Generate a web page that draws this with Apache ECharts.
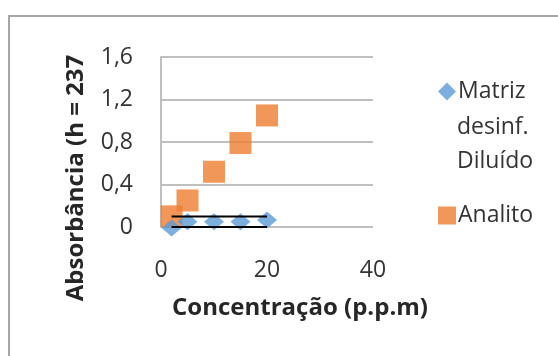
<!DOCTYPE html>
<html>
<head>
<meta charset="utf-8">
<script src="https://cdn.jsdelivr.net/npm/echarts@6/dist/echarts.min.js"></script>
<style>html,body{margin:0;padding:0;background:#fff}#c{width:558px;height:356px}</style>
</head>
<body>
<div id="c"></div>
<script>
const seriesNames = ['Matriz desinf. Diluído', 'Analito'];
const legendLines = ['Matriz', 'desinf.', 'Diluído'];
const matrizX = [2, 5, 10, 15, 20];
const matrizY = [-0.01, 0.05, 0.05, 0.05, 0.065];
const analitoX = [2, 5, 10, 15, 20];
const analitoY = [0.1, 0.25, 0.52, 0.79, 1.05];
const line1X = [2, 20];
const line1Y = [0.1, 0.1];
const line2X = [2, 20];
const line2Y = [0, 0];
const xTicks = [0, 20, 40];
const yTicks = [0, 0.4, 0.8, 1.2, 1.6];
const xTitle = 'Concentração (p.p.m)';
const yTitle = 'Absorbância (h = 237';

const pair = (xs, ys) => xs.map((x, i) => [x, ys[i]]);
const chart = echarts.init(document.getElementById('c'));
const FONT = '"Open Sans"';
const TXT = '#333333';
chart.setOption({
  animation: false,
  backgroundColor: '#fff',
  grid: { left: 161, top: 57, right: 185, bottom: 129 },
  xAxis: {
    type: 'value', min: xTicks[0], max: xTicks[xTicks.length - 1], interval: xTicks[1] - xTicks[0],
    axisLine: { show: false }, axisTick: { show: false }, splitLine: { show: false },
    axisLabel: { fontFamily: FONT, fontSize: 23, color: TXT, margin: 32 }
  },
  yAxis: {
    type: 'value', min: yTicks[0], max: yTicks[yTicks.length - 1], interval: yTicks[1] - yTicks[0],
    axisLine: { show: true, lineStyle: { color: '#bfbfbf', width: 2 } },
    axisTick: { show: false },
    splitLine: { show: true, lineStyle: { color: '#bfbfbf', width: 2 } },
    axisLabel: { fontFamily: FONT, fontSize: 23, color: TXT, margin: 28,
      formatter: v => String(+v.toFixed(1)).replace('.', ',') }
  },
  legend: [{
    data: [{ name: seriesNames[0], icon: 'diamond' }],
    left: 433, top: 75, orient: 'vertical',
    itemWidth: 18, itemHeight: 18,
    formatter: () => legendLines[0],
    textStyle: { fontFamily: FONT, fontSize: 23, color: TXT, padding: [0, 0, 0, -3] }
  }, {
    data: [{ name: seriesNames[1], icon: 'rect' }],
    left: 433, top: 199, orient: 'vertical',
    itemWidth: 18, itemHeight: 18,
    textStyle: { fontFamily: FONT, fontSize: 23, color: TXT, padding: [0, 0, 0, -3] }
  }],
  series: [{
    name: seriesNames[0], type: 'scatter', clip: false,
    symbol: 'diamond', symbolSize: [20, 17],
    itemStyle: { color: '#5b9bd5' },
    data: pair(matrizX, matrizY), z: 3
  }, {
    name: seriesNames[1], type: 'scatter', clip: false,
    symbol: 'rect', symbolSize: 22,
    itemStyle: { color: '#ed7d31' },
    data: pair(analitoX, analitoY), z: 2
  }, {
    type: 'line', symbol: 'none', silent: true,
    lineStyle: { color: '#000', width: 2 },
    data: pair(line1X, line1Y), z: 5
  }, {
    type: 'line', symbol: 'none', silent: true,
    lineStyle: { color: '#000', width: 2 },
    data: pair(line2X, line2Y), z: 5
  }],
  graphic: [{
    type: 'rect', shape: { x: 9, y: 16, width: 700, height: 500 },
    style: { fill: 'none', stroke: '#a6a6a6', lineWidth: 2 }, z: -1
  }, {
    type: 'text', x: 457, y: 110,
    style: { text: legendLines.slice(1).join('\n'), font: '23px ' + FONT, fill: TXT, lineHeight: 34, align: 'left', verticalAlign: 'top' }
  }, {
    type: 'text', x: 300, y: 308,
    style: { text: xTitle, font: 'bold 24px ' + FONT, fill: '#262626', align: 'center', verticalAlign: 'middle' }
  }, {
    type: 'text', x: 76, y: 178, rotation: Math.PI / 2,
    style: { text: yTitle, font: 'bold 24px ' + FONT, fill: '#262626', align: 'center', verticalAlign: 'middle' }
  }]
});
</script>
</body>
</html>
